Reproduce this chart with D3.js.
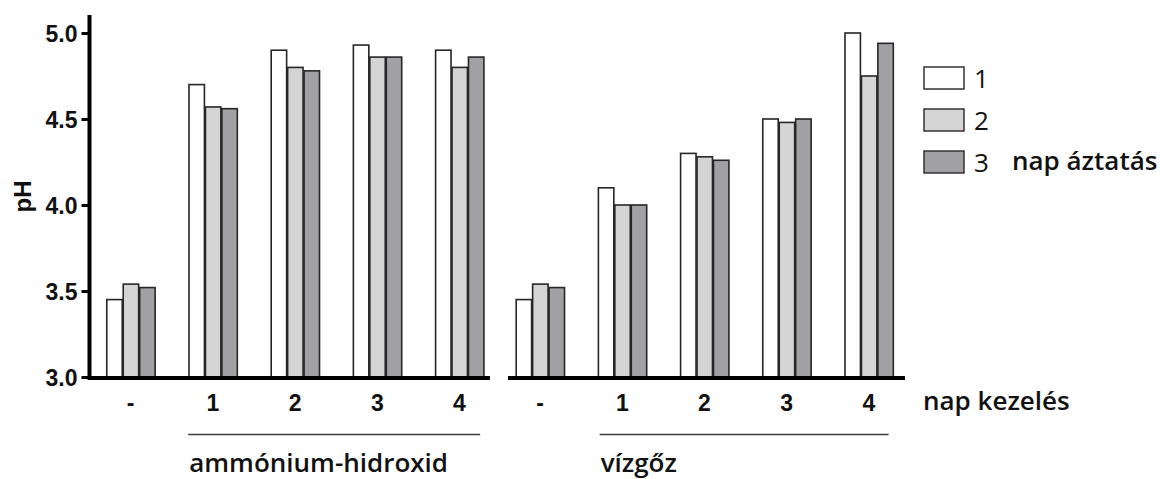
<!DOCTYPE html>
<html>
<head>
<meta charset="utf-8">
<script src="https://cdn.jsdelivr.net/npm/d3@7"></script>
<style>
	body { margin: 0; background: #fff; }
	svg { display: block; }
</style>
</head>
<body>
<svg id="chart" width="1160" height="479"></svg>
<script>
// data
const categories = ["-", "1", "2", "3", "4"]
const series = ["1", "2", "3"]
const seriesColors = ["#ffffff", "#d4d4d4", "#a1a0a5"]
const yTicks = [3.0, 3.5, 4.0, 4.5, 5.0]

// ammónium-hidroxid, napi áztatás 1, 2, 3
const ammonia1 = [3.45, 4.70, 4.90, 4.93, 4.90]
const ammonia2 = [3.54, 4.57, 4.80, 4.86, 4.80]
const ammonia3 = [3.52, 4.56, 4.78, 4.86, 4.86]

// vízgőz
const steam1 = [3.45, 4.10, 4.30, 4.50, 5.00]
const steam2 = [3.54, 4.00, 4.28, 4.48, 4.75]
const steam3 = [3.52, 4.00, 4.26, 4.50, 4.94]

const panels = [
	{ name: "ammónium-hidroxid", values: [ammonia1, ammonia2, ammonia3], range: [89.6, 500.6], base: [89, 490], line: [0, -4] },
	{ name: "vízgőz", values: [steam1, steam2, steam3], range: [499, 910], base: [508, 905], line: [2, -5] }
]

const svg = d3.select("#chart")
const numFont = "Arial, 'Liberation Sans', sans-serif"
const textFont = "'Open Sans', sans-serif"

const y = d3.scaleLinear()
	.domain([3, 5])
	.range([377, 33])

// y axis
const yAxis = svg.append("g")
	.attr("transform", "translate(89.5,0)")
	.call(d3.axisLeft(y).tickValues(yTicks).tickFormat(d3.format(".1f")).tickSize(8).tickPadding(4))

yAxis.select(".domain").remove()
yAxis.selectAll(".tick line").attr("stroke", "#000").attr("stroke-width", 3)
yAxis.selectAll(".tick text")
	.attr("fill", "#111")
	.style("font-family", numFont)
	.style("font-size", "23px")
	.style("font-weight", "bold")
	.attr("dy", "0.36em")

svg.append("line")
	.attr("x1", 89.5).attr("x2", 89.5)
	.attr("y1", y(5.105)).attr("y2", y(3) + 3)
	.attr("stroke", "#000")
	.attr("stroke-width", 4)

svg.append("text")
	.attr("transform", `translate(31,${y(4.05)}) rotate(-90)`)
	.attr("text-anchor", "middle")
	.style("font-family", numFont)
	.style("font-size", "24px")
	.style("font-weight", "bold")
	.attr("fill", "#111")
	.text("pH")

panels.forEach(panel => {
	const x0 = d3.scaleBand()
		.domain(categories)
		.range(panel.range)
		.paddingInner(0.4)
		.paddingOuter(0.2)

	const x1 = d3.scaleBand()
		.domain(series)
		.range([0, x0.bandwidth()])

	const g = svg.append("g")

	const groups = g.selectAll("g.group")
		.data(categories)
		.join("g")
		.attr("class", "group")
		.attr("transform", d => `translate(${x0(d)},0)`)

	groups.selectAll("rect")
		.data((cat, ci) => series.map((s, si) => ({ s, si, v: panel.values[si][ci] })))
		.join("rect")
		.attr("x", d => x1(d.s) + 0.75)
		.attr("y", d => y(d.v))
		.attr("width", x1.bandwidth() - 1)
		.attr("height", d => y(3) - y(d.v))
		.attr("fill", d => seriesColors[d.si])
		.attr("stroke", "#262626")
		.attr("stroke-width", 1.6)

	// baseline
	g.append("line")
		.attr("x1", panel.base[0]).attr("x2", panel.base[1])
		.attr("y1", 378).attr("y2", 378)
		.attr("stroke", "#000")
		.attr("stroke-width", 4)

	// category labels
	g.selectAll("text.cat")
		.data(categories)
		.join("text")
		.attr("class", "cat")
		.attr("x", d => x0(d) + x0.bandwidth() / 2)
		.attr("y", 411)
		.attr("text-anchor", "middle")
		.style("font-family", numFont)
		.style("font-size", "23px")
		.style("font-weight", "bold")
		.attr("fill", "#111")
		.text(d => d)

	// bracket line under treatment days
	const lx1 = x0("1") + panel.line[0]
	const lx2 = x0("4") + x0.bandwidth() + panel.line[1]
	g.append("line")
		.attr("x1", lx1).attr("x2", lx2)
		.attr("y1", 434.5).attr("y2", 434.5)
		.attr("stroke", "#3a3a3a")
		.attr("stroke-width", 1.5)

	g.append("text")
		.attr("x", lx1 + 1)
		.attr("y", 472)
		.style("font-family", textFont)
		.style("font-size", "26px")
		.style("font-weight", 600)
		.attr("fill", "#111")
		.text(panel.name)
})

svg.append("text")
	.attr("x", 923)
	.attr("y", 410)
	.style("font-family", textFont)
	.style("font-size", "26px")
	.style("font-weight", 600)
	.attr("fill", "#111")
	.text("nap kezelés")

// legend
const legendY = d3.scalePoint()
	.domain(series)
	.range([67, 151])

const legend = svg.append("g")

legend.selectAll("rect")
	.data(series)
	.join("rect")
	.attr("x", 924)
	.attr("y", d => legendY(d))
	.attr("width", 40)
	.attr("height", 22)
	.attr("fill", (d, i) => seriesColors[i])
	.attr("stroke", "#333")
	.attr("stroke-width", 1.5)

legend.selectAll("text")
	.data(series)
	.join("text")
	.attr("x", 974)
	.attr("y", d => legendY(d) + 21)
	.style("font-family", textFont)
	.style("font-size", "26px")
	.attr("fill", "#111")
	.text(d => d)

legend.append("text")
	.attr("x", 1012)
	.attr("y", legendY("3") + 19)
	.style("font-family", textFont)
	.style("font-size", "26px")
	.style("font-weight", 600)
	.attr("fill", "#111")
	.text("nap áztatás")
</script>
</body>
</html>
